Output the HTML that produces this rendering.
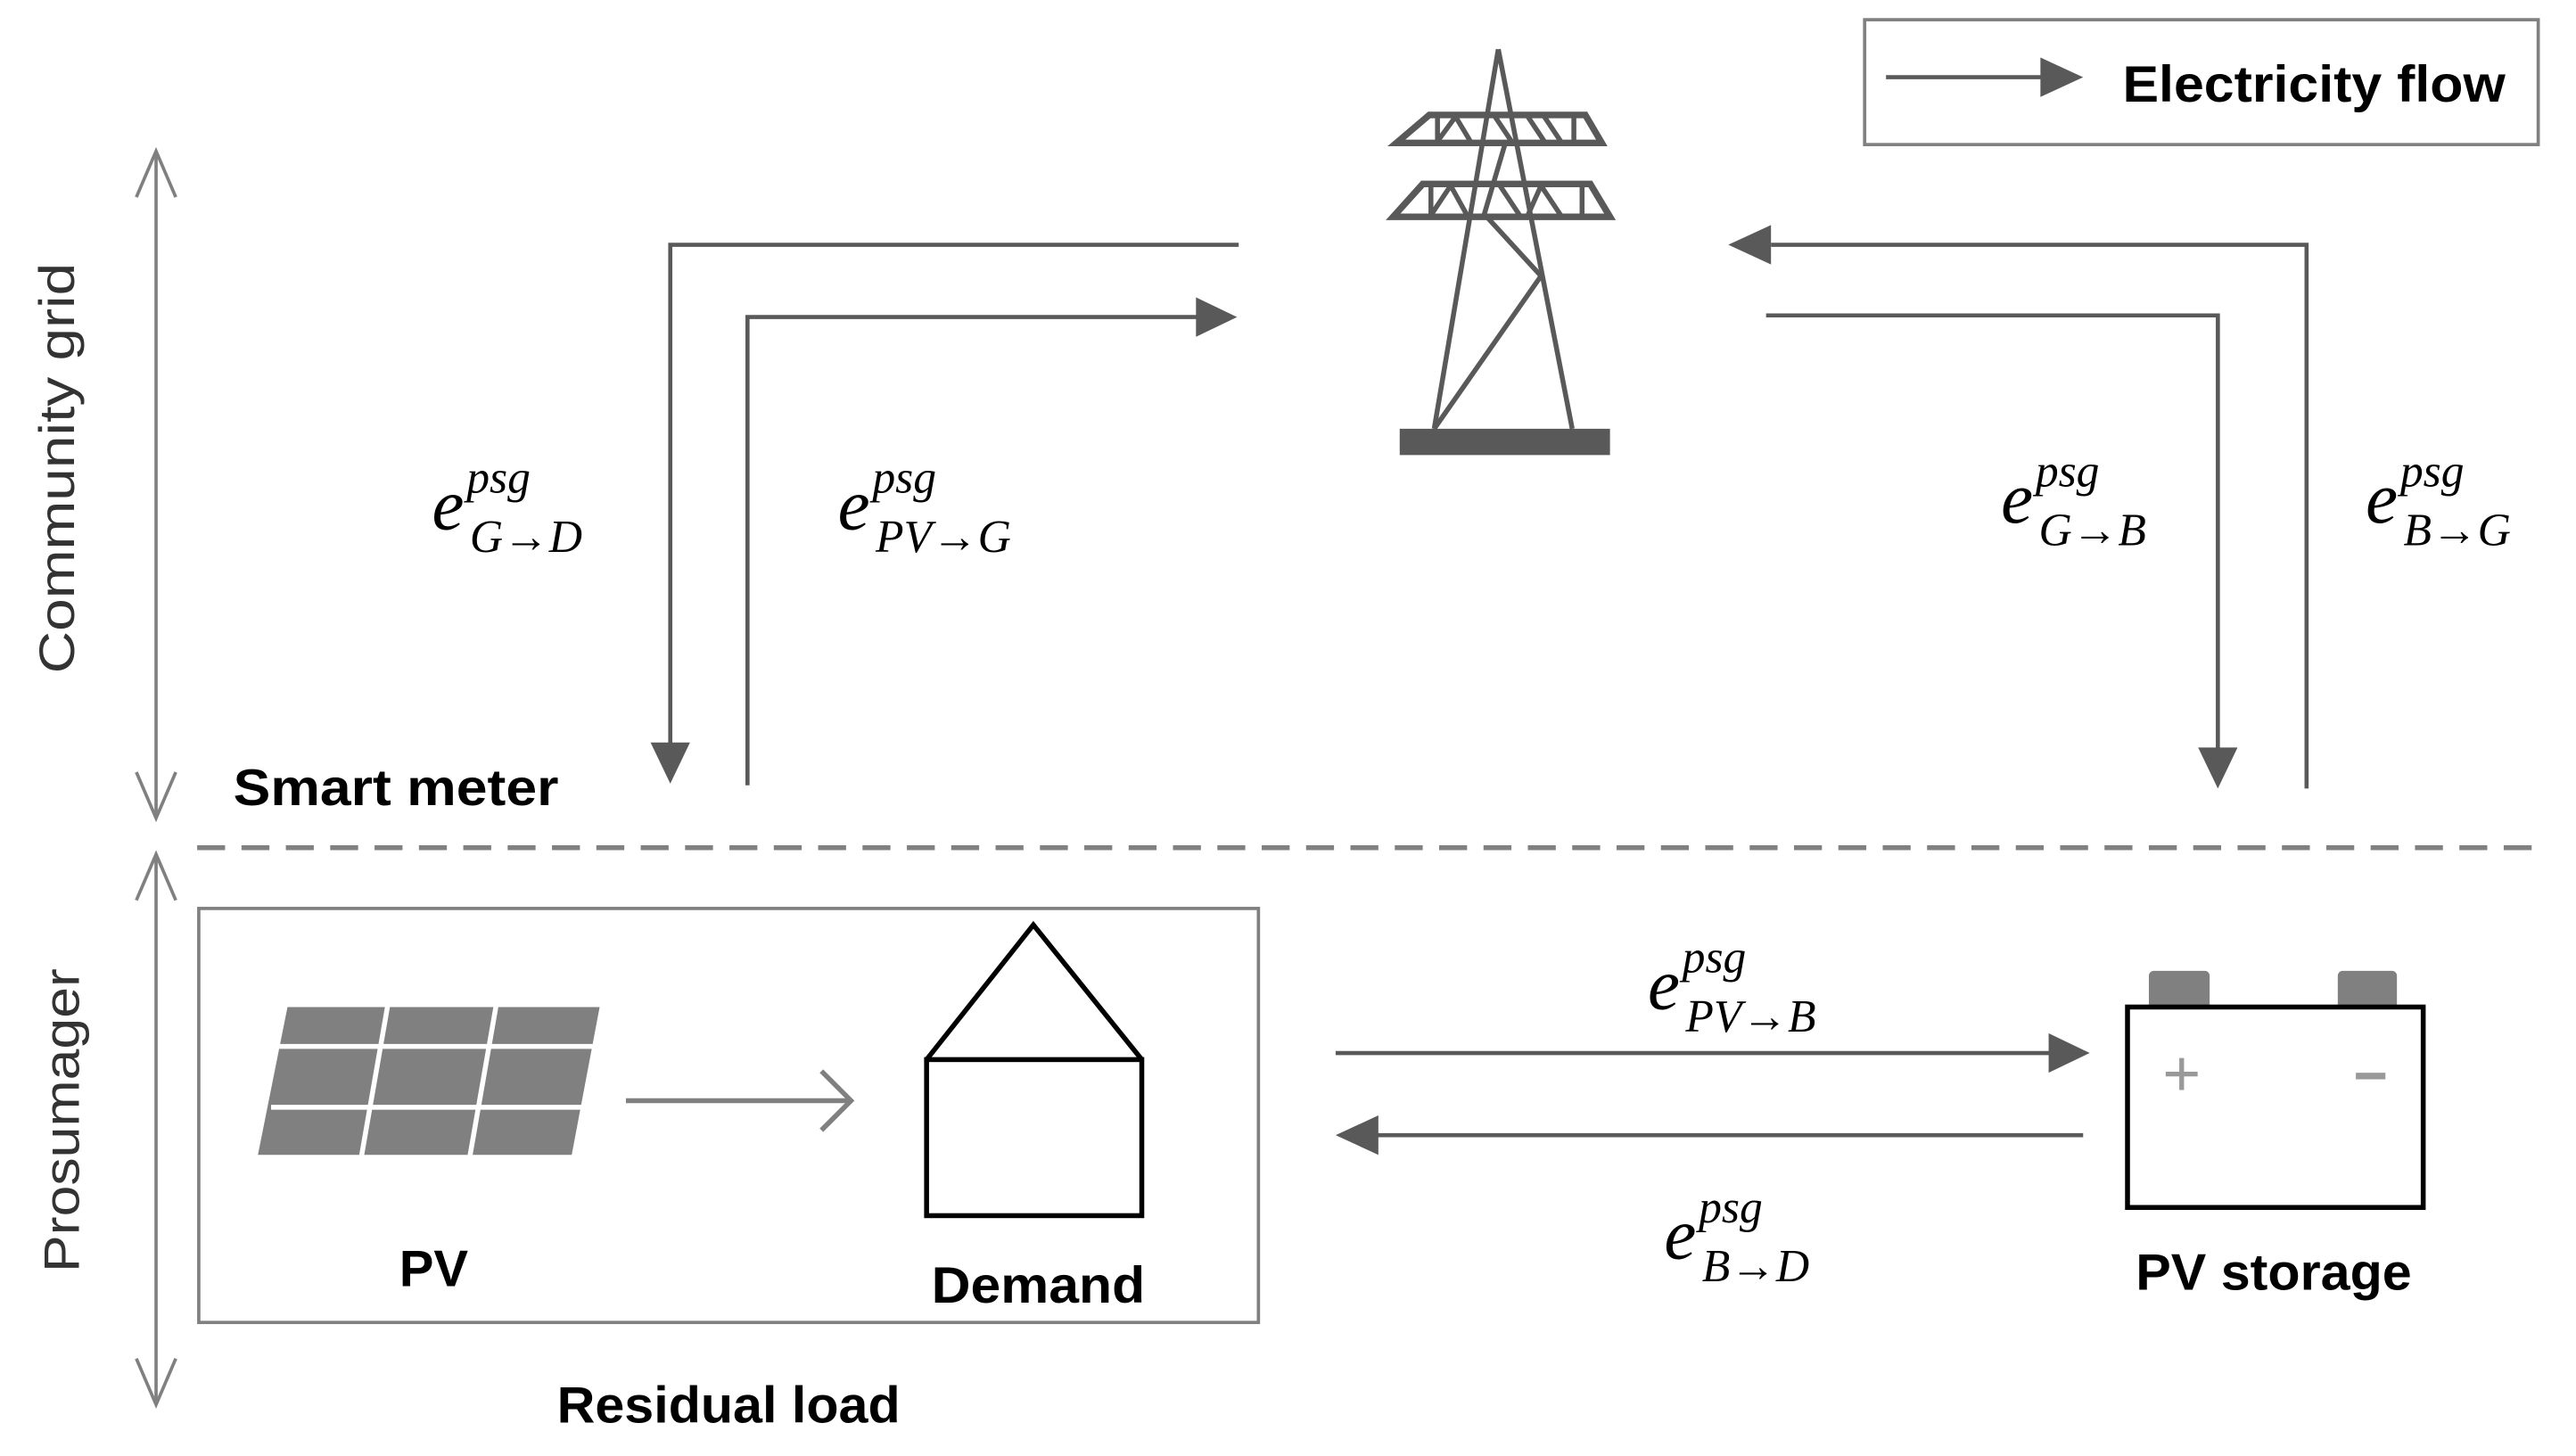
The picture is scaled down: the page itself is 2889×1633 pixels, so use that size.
<!DOCTYPE html>
<html><head><meta charset="utf-8"><style>
html,body{margin:0;padding:0;background:#fff;}
svg{display:block;}
.m{font-family:"Liberation Serif",serif;font-style:italic;fill:#000;}
.b{font-family:"Liberation Sans",sans-serif;font-weight:bold;fill:#000;}
</style></head><body>
<svg width="2889" height="1633" viewBox="0 0 1568 886.3" preserveAspectRatio="none" xmlns="http://www.w3.org/2000/svg">
<!-- legend -->
<rect x="1135" y="12" width="410" height="76" fill="none" stroke="#808080" stroke-width="2"/>
<line x1="1148" y1="47" x2="1244" y2="47" stroke="#595959" stroke-width="2.5"/>
<path d="M1242,35 L1268,47 L1242,59 z" fill="#595959"/>
<text x="1292" y="62" class="b" font-size="31" textLength="233" lengthAdjust="spacingAndGlyphs">Electricity flow</text>
<!-- tower -->
<g stroke="#595959" stroke-width="3" fill="none">
<line x1="912" y1="30" x2="873" y2="261"/>
<line x1="912" y1="30" x2="957" y2="261"/>
<line x1="905" y1="132" x2="938" y2="168"/>
<line x1="938" y1="168" x2="873" y2="261"/>
<line x1="916" y1="88" x2="903" y2="132"/>
<path d="M870,70 L965,70 L975,87 L850,87 z" stroke-width="4"/>
<path d="M875,71 L875,86 M875,86 L886,71 M886,71 L895,86 M910,71 L920,86 M930,71 L940,86 M940,71 L950,86 M958,71 L958,86"/>
<path d="M866,112 L968,112 L980,132 L848,132 z" stroke-width="4"/>
<path d="M871,113 L871,131 M871,131 L883,113 M883,113 L893,131 M913,113 L925,131 M930,131 L938,113 M938,113 L950,131 M963,113 L963,131"/>
</g>
<rect x="852" y="261" width="128" height="16" fill="#595959"/>
<!-- connectors -->
<g stroke="#595959" stroke-width="2.5" fill="none">
<polyline points="754,149 408,149 408,455"/>
<polyline points="455,478 455,193 730,193"/>
<polyline points="1404,480 1404,149 1078,149"/>
<polyline points="1075,192 1350,192 1350,458"/>
<line x1="813" y1="641" x2="1250" y2="641"/>
<line x1="1268" y1="691" x2="838" y2="691"/>
</g>
<g fill="#595959">
<path d="M396,452 L420,452 L408,477 z"/>
<path d="M728,181 L753,193 L728,205 z"/>
<path d="M1078,137 L1052,149 L1078,161 z"/>
<path d="M1338,455 L1362,455 L1350,480 z"/>
<path d="M1247,629 L1272,641 L1247,653 z"/>
<path d="M839,679 L813,691 L839,703 z"/>
</g>
<!-- labels -->
<g class="m">
<text x="263" y="322" font-size="44">e</text><text x="284" y="300" font-size="28">psg</text><text x="286" y="336" font-size="28">G→D</text>
<text x="510" y="322" font-size="44">e</text><text x="531" y="300" font-size="28">psg</text><text x="533" y="336" font-size="28">PV→G</text>
<text x="1218" y="318" font-size="44">e</text><text x="1239" y="296" font-size="28">psg</text><text x="1241" y="332" font-size="28">G→B</text>
<text x="1440" y="318" font-size="44">e</text><text x="1461" y="296" font-size="28">psg</text><text x="1463" y="332" font-size="28">B→G</text>
<text x="1003" y="614" font-size="44">e</text><text x="1024" y="592" font-size="28">psg</text><text x="1026" y="628" font-size="28">PV→B</text>
<text x="1013" y="766" font-size="44">e</text><text x="1034" y="744" font-size="28">psg</text><text x="1036" y="780" font-size="28">B→D</text>
</g>
<!-- axes -->
<g stroke="#808080" stroke-width="2" fill="none">
<line x1="95" y1="92" x2="95" y2="498"/>
<polyline points="83,120 95,92 107,120"/>
<polyline points="83,470 95,498 107,470"/>
<line x1="95" y1="520" x2="95" y2="855"/>
<polyline points="83,548 95,520 107,548"/>
<polyline points="83,827 95,855 107,827"/>
</g>
<text transform="translate(45,285) rotate(-90)" text-anchor="middle" font-family="Liberation Sans,sans-serif" font-size="30" fill="#333" textLength="250" lengthAdjust="spacingAndGlyphs">Community grid</text>
<text transform="translate(48,682) rotate(-90)" text-anchor="middle" font-family="Liberation Sans,sans-serif" font-size="30" fill="#333" textLength="185" lengthAdjust="spacingAndGlyphs">Prosumager</text>
<text x="142" y="490" class="b" font-size="31" textLength="198" lengthAdjust="spacingAndGlyphs">Smart meter</text>
<line x1="120" y1="516" x2="1550" y2="516" stroke="#808080" stroke-width="3" stroke-dasharray="17,10"/>
<!-- prosumager box -->
<rect x="121" y="553" width="645" height="252" fill="none" stroke="#808080" stroke-width="2"/>
<path d="M175,613 L365,613 L348,703 L157,703 z" fill="#808080"/>
<g stroke="#fff" stroke-width="3">
<line x1="170" y1="637" x2="362" y2="637"/>
<line x1="165" y1="674" x2="356" y2="674"/>
<line x1="236" y1="612" x2="220" y2="704"/>
<line x1="302" y1="612" x2="286" y2="704"/>
</g>
<line x1="381" y1="670" x2="517" y2="670" stroke="#808080" stroke-width="3"/>
<polyline points="500,652 518,670 500,688" fill="none" stroke="#808080" stroke-width="3"/>
<path d="M564,645 L629,563 L695,645" fill="none" stroke="#000" stroke-width="3"/>
<rect x="564" y="645" width="131" height="95" fill="none" stroke="#000" stroke-width="3"/>
<text x="243" y="783" class="b" font-size="31" textLength="42" lengthAdjust="spacingAndGlyphs">PV</text>
<text x="567" y="793" class="b" font-size="31" textLength="130" lengthAdjust="spacingAndGlyphs">Demand</text>
<text x="339" y="866" class="b" font-size="31" textLength="209" lengthAdjust="spacingAndGlyphs">Residual load</text>
<!-- battery -->
<rect x="1308" y="591" width="37" height="24" rx="3" fill="#808080"/>
<rect x="1423" y="591" width="36" height="24" rx="3" fill="#808080"/>
<rect x="1295" y="613" width="180" height="122" fill="#fff" stroke="#000" stroke-width="3"/>
<text x="1328" y="667" text-anchor="middle" font-family="Liberation Sans,sans-serif" font-size="40" fill="#999">+</text>
<rect x="1434" y="653" width="18" height="4" fill="#999"/>
<text x="1300" y="785" class="b" font-size="31" textLength="168" lengthAdjust="spacingAndGlyphs">PV storage</text>
</svg>
</body></html>
